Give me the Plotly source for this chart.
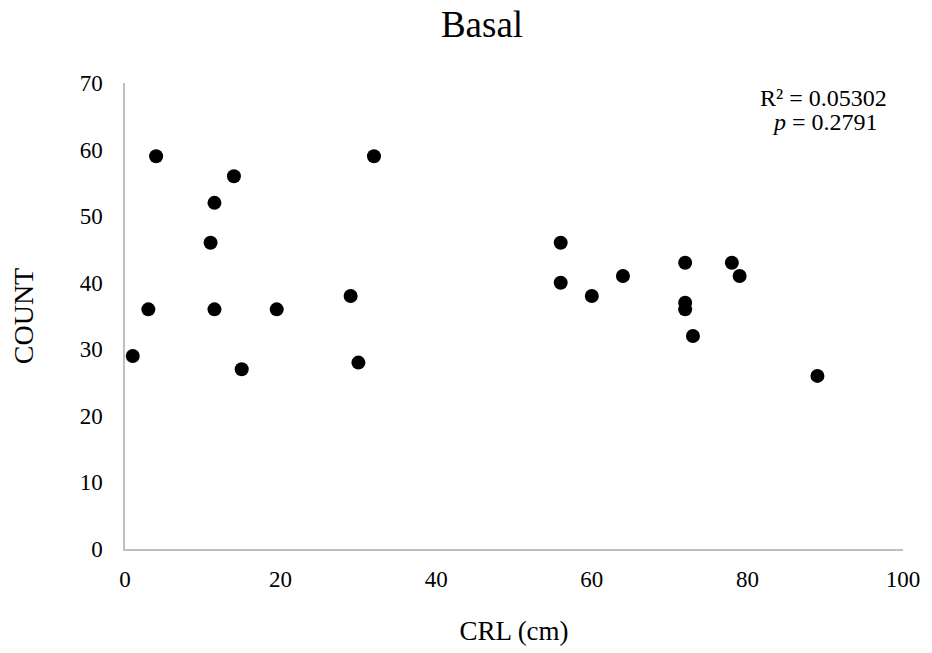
import plotly.graph_objects as go

crl = [1, 3, 4, 11, 11.5, 11.5, 14, 15, 19.5, 29, 30, 32,
       56, 56, 60, 64, 72, 72, 72, 73, 78, 79, 89]
count = [29, 36, 59, 46, 52, 36, 56, 27, 36, 38, 28, 59,
         46, 40, 38, 41, 43, 37, 36, 32, 43, 41, 26]

x_ticks = [0, 20, 40, 60, 80, 100]
y_ticks = [0, 10, 20, 30, 40, 50, 60, 70]

r2_text = "R² = 0.05302"
p_text = "<i>p</i> = 0.2791"

FONT = "Liberation Serif, Times New Roman, serif"
L, R, T, B = 125, 905, 83, 549

def px_x(px):
    return (px - L) / (R - L)

def px_y(py):
    return (B - py) / (B - T)

fig = go.Figure()
fig.add_trace(go.Scatter(
    x=crl, y=count, mode="markers",
    marker=dict(color="black", size=14),
    showlegend=False,
))

fig.update_layout(
    width=932, height=653,
    margin=dict(l=L, r=932 - R, t=T, b=653 - B),
    paper_bgcolor="white", plot_bgcolor="white",
    font=dict(family=FONT, color="black", size=23),
    title=dict(text="Basal", x=482/932, xref="container", xanchor="center",
               y=1-24/653, yref="container", yanchor="middle",
               font=dict(family=FONT, size=37, color="black")),
    xaxis=dict(range=[0, 100], tickvals=x_ticks, showgrid=False, zeroline=False,
               showline=True, linecolor="#bfbfbf", linewidth=1.5,
               ticks="outside", ticklen=9, tickcolor="rgba(0,0,0,0)",
               tickfont=dict(size=23),
               title=dict(text="CRL (cm)", font=dict(size=27), standoff=30)),
    yaxis=dict(range=[0, 70], tickvals=y_ticks, showgrid=False, zeroline=False,
               showline=True, linecolor="#bfbfbf", linewidth=1.5,
               ticks="outside", ticklen=16, tickcolor="rgba(0,0,0,0)",
               tickfont=dict(size=23),
               title=dict(text="COUNT", font=dict(size=28), standoff=38)),
    annotations=[
        dict(text=r2_text, xref="paper", yref="paper",
             x=px_x(825), y=px_y(98), xanchor="center", yanchor="middle",
             showarrow=False, font=dict(size=24, family=FONT)),
        dict(text=p_text, xref="paper", yref="paper",
             x=px_x(827), y=px_y(122), xanchor="center", yanchor="middle",
             showarrow=False, font=dict(size=24, family=FONT)),
    ],
)

fig.write_html("out.html")
